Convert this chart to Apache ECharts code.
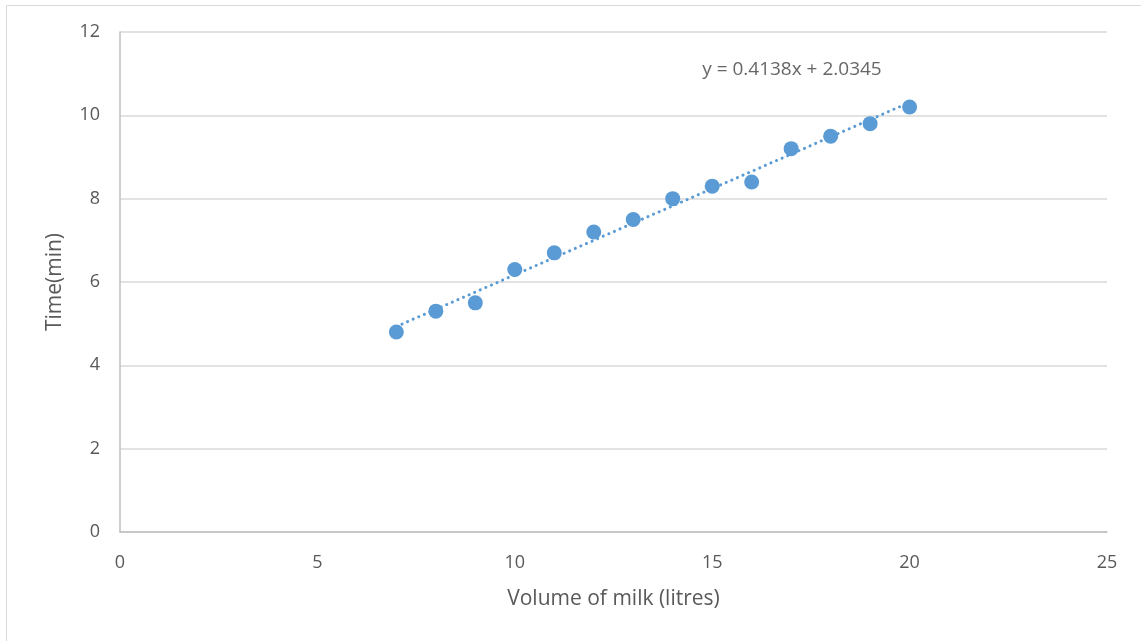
<!DOCTYPE html>
<html><head><meta charset="utf-8">
<script src="https://cdn.jsdelivr.net/npm/echarts@6/dist/echarts.min.js"></script>
<style>html,body{margin:0;padding:0;background:#fff}#c{width:1141px;height:641px}</style>
</head><body><div id="c"></div>
<script>
const volume = [7, 8, 9, 10, 11, 12, 13, 14, 15, 16, 17, 18, 19, 20];
const time = [4.8, 5.3, 5.5, 6.3, 6.7, 7.2, 7.5, 8.0, 8.3, 8.4, 9.2, 9.5, 9.8, 10.2];
const slope = 0.4138, intercept = 2.0345;
const trendX = [7, 20];
const equationText = 'y = 0.4138x + 2.0345';
const equationPos = [17.02, 11.09];

const chart = echarts.init(document.getElementById('c'));
const font = '"Open Sans", sans-serif';
chart.setOption({
  animation: false,
  textStyle: {fontFamily: font},
  graphic: [{type: 'rect', shape: {x: 6.5, y: 5.5, width: 1140, height: 640}, style: {fill: 'none', stroke: '#d9d9d9', lineWidth: 1}, z: -1}],
  grid: {left: 120, top: 32, width: 987, height: 500},
  xAxis: {
    type: 'value', min: 0, max: 25, interval: 5,
    name: 'Volume of milk (litres)', nameLocation: 'middle', nameGap: 57,
    nameTextStyle: {fontSize: 21, color: '#595959', fontFamily: font},
    axisLine: {lineStyle: {color: '#bfbfbf', width: 1.5}},
    axisTick: {show: false},
    axisLabel: {fontSize: 18, color: '#595959', margin: 22, fontFamily: font},
    splitLine: {show: false}
  },
  yAxis: {
    type: 'value', min: 0, max: 12, interval: 2,
    name: 'Time(min)', nameLocation: 'middle', nameGap: 54, nameRotate: 90,
    nameTextStyle: {fontSize: 21, color: '#595959', fontFamily: font},
    axisLine: {show: true, lineStyle: {color: '#bfbfbf', width: 1.5}},
    axisTick: {show: false},
    axisLabel: {fontSize: 18, color: '#595959', margin: 20, fontFamily: font},
    splitLine: {lineStyle: {color: '#d9d9d9', width: 1.5}}
  },
  series: [
    {
      type: 'line',
      data: trendX.map(x => [x, slope * x + intercept]),
      symbol: 'none',
      lineStyle: {color: '#5b9bd5', width: 3, type: [0.1, 6], cap: 'round'},
      z: 1
    },
    {
      type: 'scatter',
      data: volume.map((v, i) => [v, time[i]]),
      symbolSize: 15,
      itemStyle: {color: '#5b9bd5', opacity: 1},
      z: 2
    },
    {
      type: 'scatter',
      data: [equationPos],
      symbolSize: 1,
      itemStyle: {color: 'rgba(0,0,0,0)'},
      label: {show: true, position: 'inside', formatter: equationText, fontSize: 19, color: '#404040', fontFamily: font},
      silent: true,
      z: 3
    }
  ]
});
</script></body></html>
